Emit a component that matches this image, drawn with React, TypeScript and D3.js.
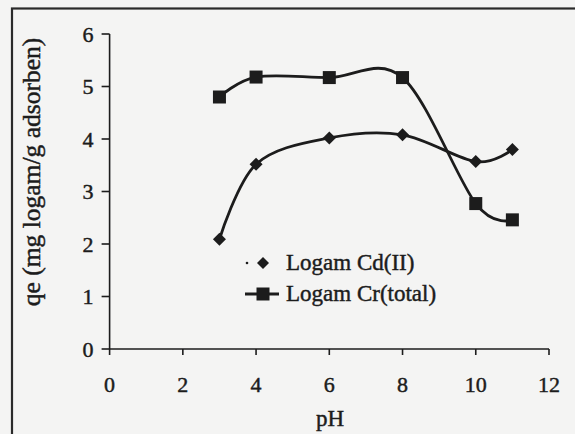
import React from "react";
import * as d3 from "d3";

const phValues = [3, 4, 6, 8, 10, 11];
const cdValues = [2.09, 3.52, 4.02, 4.08, 3.57, 3.8];
const crValues = [4.8, 5.18, 5.17, 5.17, 2.77, 2.46];
const xTicks = [0, 2, 4, 6, 8, 10, 12];
const yTicks = [0, 1, 2, 3, 4, 5, 6];
const seriesNames = ["Logam Cd(II)", "Logam Cr(total)"];
const xTitle = "pH";
const yTitle = "qe (mg logam/g adsorben)";

const W = 575;
const H = 434;
const FONT = "'Liberation Serif', 'Times New Roman', serif";
const INK = "#1c1c1c";
const TS = { stroke: INK, strokeWidth: 0.45 };

export default function App() {
  const x = d3.scaleLinear().domain([0, 12]).range([109.6, 549]);
  const y = d3.scaleLinear().domain([0, 6]).range([349, 34]);
  const line = d3
    .line<number>()
    .x((_, i) => x(phValues[i]))
    .y((d) => y(d))
    .curve(d3.curveCardinal.tension(0));

  const diamond = (cx: number, cy: number, r: number) =>
    `M${cx},${cy - r}L${cx + r},${cy}L${cx},${cy + r}L${cx - r},${cy}Z`;

  return (
    <svg
      width={W}
      height={H}
      style={{ position: "absolute", left: 0, top: 0, background: "#f4f4f3" }}
    >
      <rect x={0} y={0} width={W} height={H} fill="#f4f4f3" />
      {/* frame */}
      <rect x={12} y={8.5} width={700} height={600} fill="none" stroke="#2a2a2a" strokeWidth={2.2} />

      {/* axes */}
      <line x1={x(0)} x2={x(0)} y1={y(6)} y2={y(0)} stroke={INK} strokeWidth={1.6} />
      <line x1={x(0)} x2={x(12)} y1={y(0)} y2={y(0)} stroke={INK} strokeWidth={1.6} />
      {yTicks.map((t) => (
        <g key={"y" + t}>
          <line x1={x(0) - 8} x2={x(0)} y1={y(t)} y2={y(t)} stroke={INK} strokeWidth={1.6} />
          <text
            x={x(0) - 16}
            y={y(t) + 7.5}
            textAnchor="end"
            fontFamily={FONT}
            fontSize={22}
            fill={INK}
            {...TS}
          >
            {t}
          </text>
        </g>
      ))}
      {xTicks.map((t) => (
        <g key={"x" + t}>
          <line x1={x(t)} x2={x(t)} y1={y(0)} y2={y(0) + 6} stroke={INK} strokeWidth={1.6} />
          <text
            x={x(t)}
            y={392}
            textAnchor="middle"
            fontFamily={FONT}
            fontSize={22}
            fill={INK}
            {...TS}
          >
            {t}
          </text>
        </g>
      ))}
      <text x={330} y={426} textAnchor="middle" fontFamily={FONT} fontSize={23} fill={INK} {...TS}>
        {xTitle}
      </text>
      <text
        x={40}
        y={172}
        transform="rotate(-90 40 172)"
        textAnchor="middle"
        fontFamily={FONT}
        fontSize={25.5}
        fill={INK}
        {...TS}
      >
        {yTitle}
      </text>

      {/* series */}
      <path d={line(cdValues) || ""} fill="none" stroke={INK} strokeWidth={2.8} />
      <path d={line(crValues) || ""} fill="none" stroke={INK} strokeWidth={2.8} />
      {cdValues.map((v, i) => (
        <path key={"cd" + i} d={diamond(x(phValues[i]), y(v), 6.5)} fill={INK} />
      ))}
      {crValues.map((v, i) => (
        <rect
          key={"cr" + i}
          x={x(phValues[i]) - 6.5}
          y={y(v) - 6.5}
          width={13}
          height={13}
          fill={INK}
        />
      ))}

      {/* legend */}
      <circle cx={247} cy={263} r={1.3} fill={INK} />
      <path d={diamond(263, 263, 6)} fill={INK} />
      <text x={286} y={270} fontFamily={FONT} fontSize={23} fill={INK} {...TS}>
        {seriesNames[0]}
      </text>
      <line x1={245} x2={279} y1={294} y2={294} stroke={INK} strokeWidth={2.8} />
      <rect x={256.5} y={287.5} width={13} height={13} fill={INK} />
      <text x={286} y={301} fontFamily={FONT} fontSize={23} fill={INK} {...TS}>
        {seriesNames[1]}
      </text>
    </svg>
  );
}
